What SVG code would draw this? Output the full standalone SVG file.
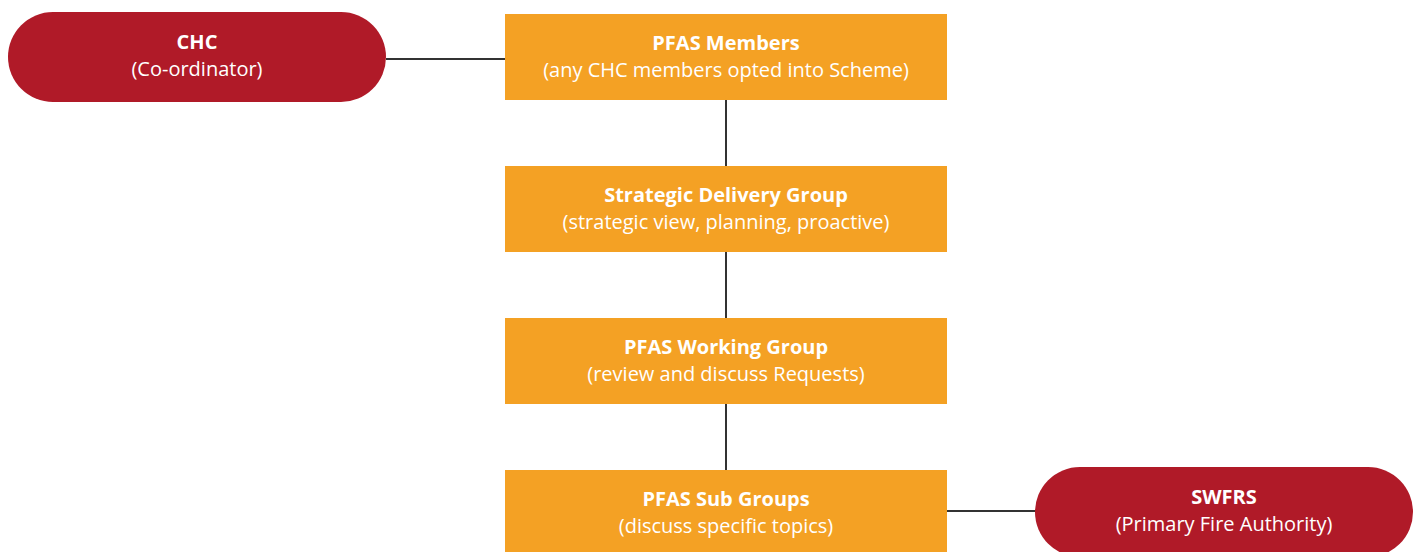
<svg xmlns="http://www.w3.org/2000/svg" width="1419" height="552" viewBox="0 0 1419 552">
<style>
.red{fill:#B01A28}
.org{fill:#F4A124}
.t{font-family:"Open Sans","Liberation Sans",sans-serif;font-size:20px;fill:#fff;text-anchor:middle}
.b{font-weight:bold}
.c{stroke:#333;stroke-width:2;fill:none}
</style>
<rect width="1419" height="552" fill="#fff"/>
<g id="connectors">
<line class="c" x1="386" y1="59" x2="505" y2="59"/>
<line class="c" x1="726" y1="100" x2="726" y2="166"/>
<line class="c" x1="726" y1="252" x2="726" y2="318"/>
<line class="c" x1="726" y1="404" x2="726" y2="470"/>
<line class="c" x1="947" y1="511" x2="1036" y2="511"/>
</g>
<g id="chc">
<rect class="red" x="8" y="12" width="378" height="90" rx="45"/>
<text class="t b" x="197" y="49">CHC</text>
<text class="t" x="197" y="76">(Co-ordinator)</text>
</g>
<g id="pfas-members">
<rect class="org" x="505" y="14" width="442" height="86"/>
<text class="t b" x="726" y="50">PFAS Members</text>
<text class="t" x="726" y="77">(any CHC members opted into Scheme)</text>
</g>
<g id="strategic">
<rect class="org" x="505" y="166" width="442" height="86"/>
<text class="t b" x="726" y="202">Strategic Delivery Group</text>
<text class="t" x="726" y="229">(strategic view, planning, proactive)</text>
</g>
<g id="working">
<rect class="org" x="505" y="318" width="442" height="86"/>
<text class="t b" x="726" y="354">PFAS Working Group</text>
<text class="t" x="726" y="381">(review and discuss Requests)</text>
</g>
<g id="sub">
<rect class="org" x="505" y="470" width="442" height="86"/>
<text class="t b" x="726" y="506">PFAS Sub Groups</text>
<text class="t" x="726" y="533">(discuss specific topics)</text>
</g>
<g id="swfrs">
<rect class="red" x="1035" y="467" width="378" height="90" rx="45"/>
<text class="t b" x="1224" y="504">SWFRS</text>
<text class="t" x="1224" y="531">(Primary Fire Authority)</text>
</g>
</svg>
